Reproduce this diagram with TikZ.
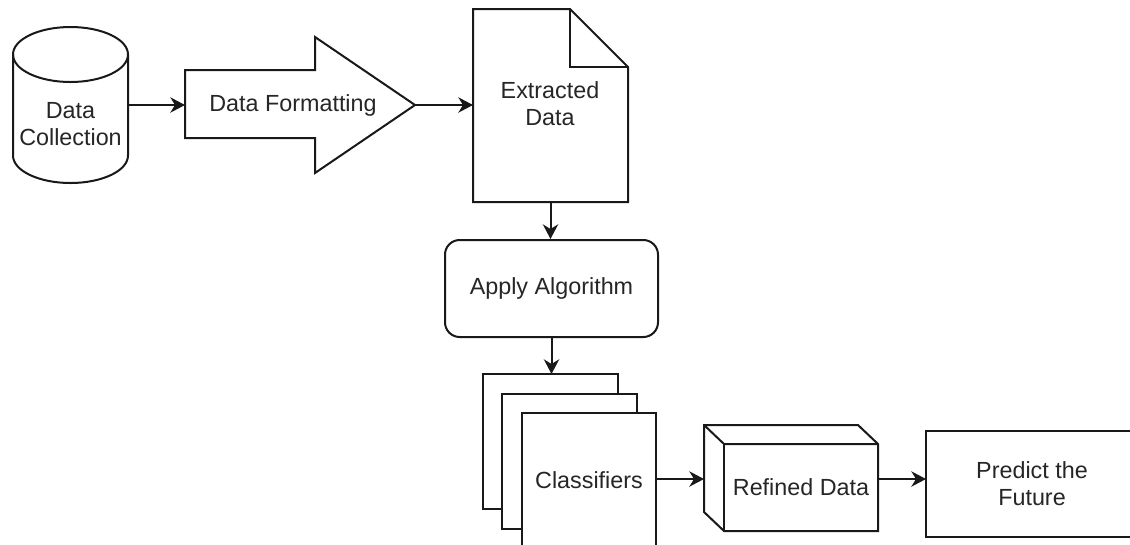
\documentclass[tikz,border=0pt]{standalone}
\usepackage{fontspec}
\setmainfont{Liberation Sans}
\usetikzlibrary{arrows.meta}
\begin{document}
\begin{tikzpicture}[x=0.75pt,y=-0.75pt,
  shp/.style={draw=black!90, line width=1.5pt, fill=white, line join=miter},
  frame/.style={inner sep=0pt, outer sep=0pt, rectangle},
  lbl/.style={font=\fontsize{17.5}{20.25}\selectfont, align=center, text=black!85},
  conn/.style={draw=black!90, line width=1.5pt, -{Stealth[length=11pt,width=11.5pt,inset=3.5pt]}}]
\useasboundingbox (0,0) rectangle (1130,544);
\clip (0,0) rectangle (1130,544);
\fill[white] (0,0) rectangle (1130,544);

% Data Collection (cylinder)
\node[frame, minimum width=86.25pt, minimum height=117pt] (dc) at (70.5,105) {};
\draw[shp] ([yshift=-20.625pt]dc.north west) -- ([yshift=20.625pt]dc.south west)
  arc[start angle=180, end angle=360, x radius=43.125pt, y radius=20.625pt]
  -- ([yshift=-20.625pt]dc.north east)
  arc[start angle=0, end angle=180, x radius=43.125pt, y radius=20.625pt] -- cycle;
\draw[shp, fill=none] ([yshift=-20.625pt]dc.north west)
  arc[start angle=180, end angle=360, x radius=43.125pt, y radius=20.625pt];
\node[lbl] at (70.5,124) {Data\\Collection};

% Data Formatting (block arrow)
\node[frame, minimum width=172.5pt, minimum height=102pt] (df) at (300,105) {};
\draw[shp] (185,70) -- (315,70) -- (315,37) -- (415,105) -- (315,173) -- (315,138) -- (185,138) -- cycle;
\node[lbl] at (293,105) {Data Formatting};

% Extracted Data (document)
\node[frame, minimum width=116.25pt, minimum height=144.75pt] (ed) at (550.5,105.5) {};
\draw[shp] (473,9) -- (570,9) -- (628,67) -- (628,202) -- (473,202) -- cycle;
\draw[shp, fill=none] (570,9) -- (570,67) -- (628,67);
\node[lbl] at (550,104) {Extracted\\Data};

% Apply Algorithm
\node[shp, lbl, rounded corners=11pt, minimum width=159.75pt, minimum height=72.75pt] (ap) at (551.5,288.5) {Apply Algorithm};

% Classifiers (stack)
\node[shp, frame, minimum width=101.25pt, minimum height=101.25pt] (c1) at (550.5,441.5) {};
\node[shp, frame, minimum width=101.25pt, minimum height=101.25pt] (c2) at (569.5,461.5) {};
\node[shp, frame, lbl, minimum width=100.5pt, minimum height=101.25pt] (c3) at (589,480.5) {Classifiers};

% Refined Data (cube)
\node[frame, minimum width=130.5pt, minimum height=79.5pt] (rd) at (791,478) {};
\draw[shp] (704,425) -- (858,425) -- (878,444) -- (878,531) -- (724,531) -- (704,512) -- cycle;
\draw[shp, fill=none] (704,425) -- (724,444) -- (878,444);
\draw[shp, fill=none] (724,444) -- (724,531);
\node[lbl] at (801,487) {Refined Data};

% Predict the Future (box runs past the right edge)
\node[frame, minimum width=159pt, minimum height=79.5pt] (pr) at (1032,484) {};
\draw[shp, fill=none] ([xshift=40pt]pr.north east) -- (pr.north west) -- (pr.south west) -- ([xshift=40pt]pr.south east);
\node[lbl] at (pr) {Predict the\\Future};

% connectors
\draw[conn] (dc.east) -- (df.west);
\draw[conn] (df.east) -- (df.east -| ed.west);
\draw[conn] (ed.south) -- (ed.south |- ap.north);
\draw[conn] (ap.south) -- (ap.south |- c1.north);
\draw[conn] (c3.east |- 0,479) -- (rd.west |- 0,479);
\draw[conn] (rd.east |- 0,479) -- (pr.west |- 0,479);
\end{tikzpicture}
\end{document}
